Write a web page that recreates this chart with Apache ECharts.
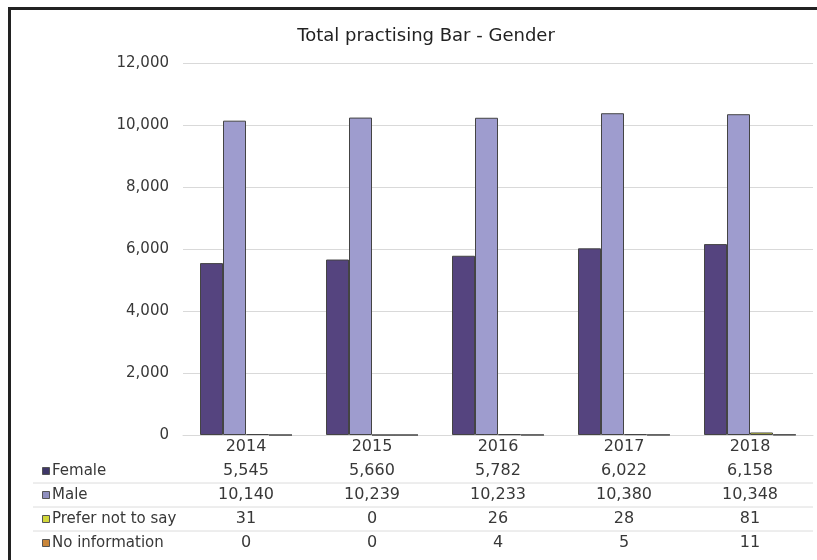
<!DOCTYPE html>
<html>
<head>
<meta charset="utf-8">
<title>Total practising Bar - Gender</title>
<script src="https://cdn.jsdelivr.net/npm/echarts@6/dist/echarts.min.js"></script>
<style>
  html, body { margin: 0; padding: 0; background: #ffffff; }
  #chart { width: 817px; height: 560px; }
</style>
</head>
<body>
<div id="chart"></div>
<script>
// Practising barristers by gender, 2014-2018
var years = ['2014', '2015', '2016', '2017', '2018'];
var female = [5545, 5660, 5782, 6022, 6158];
var male = [10140, 10239, 10233, 10380, 10348];
var preferNotToSay = [31, 0, 26, 28, 81];
var noInformation = [0, 0, 4, 5, 11];
var yTicks = { min: 0, max: 12000, step: 2000 };

var seriesNames = ['Female', 'Male', 'Prefer not to say', 'No information'];
var seriesData = [female, male, preferNotToSay, noInformation];
var seriesColors = ['#55447f', '#9e9cce', '#dfe03c', '#d58c34'];
var keyColors = ['#3f3768', '#8f8fbf', '#d2d73a', '#c9863a'];

var FONT = '"DejaVu Sans", "Liberation Sans", sans-serif';
var TEXT = '#383838';
var GRID = { left: 183, right: 813, top: 63, bottom: 435 };
var ROW_H = 24;

function fmt(v) { return v.toLocaleString('en-US'); }

// one hidden-line category axis per table row, stacked below the plot
var xAxes = [{
  type: 'category',
  data: years,
  gridIndex: 0,
  position: 'bottom',
  axisLine: { show: true, lineStyle: { color: '#d9d9d9', width: 1 } },
  axisTick: { show: false },
  axisLabel: { fontFamily: FONT, fontSize: 16, color: TEXT, margin: 4 }
}];
seriesData.forEach(function (arr, i) {
  xAxes.push({
    type: 'category',
    data: arr.map(fmt),
    gridIndex: 0,
    position: 'bottom',
    offset: ROW_H * (i + 1),
    axisLine: { show: false },
    axisTick: { show: false },
    splitLine: { show: false },
    axisLabel: { fontFamily: FONT, fontSize: 16, color: TEXT, margin: 4, interval: 0 }
  });
});

var graphics = [];
// row keys and names of the data table
seriesNames.forEach(function (name, i) {
  var cy = GRID.bottom + 12 + ROW_H * (i + 1);
  graphics.push({
    type: 'rect',
    shape: { x: 42.5, y: cy - 3.5, width: 7, height: 7 },
    style: { fill: keyColors[i], stroke: '#555555', lineWidth: 1 }
  });
  graphics.push({
    type: 'text',
    x: 52, y: cy,
    style: { text: name, fontFamily: FONT, fontSize: 15, fill: TEXT, textVerticalAlign: 'middle', verticalAlign: 'middle' }
  });
});
// separators between table rows
[1, 2, 3].forEach(function (k) {
  var ly = GRID.bottom + 12 + ROW_H * k + ROW_H / 2;
  graphics.push({
    type: 'line',
    shape: { x1: 33, y1: ly, x2: GRID.right, y2: ly },
    style: { stroke: '#dcdcdc', lineWidth: 1 }
  });
});
// outer frame
graphics.push({
  type: 'rect',
  shape: { x: 9.5, y: 8.5, width: 830, height: 580 },
  style: { fill: 'none', stroke: '#222222', lineWidth: 3 }
});

var option = {
  backgroundColor: '#ffffff',
  animation: false,
  title: {
    text: 'Total practising Bar - Gender',
    left: 421,
    top: 22,
    textAlign: 'center',
    textStyle: { fontFamily: FONT, fontSize: 18, fontWeight: 'normal', color: '#222222' }
  },
  grid: {
    left: GRID.left,
    right: 817 - GRID.right,
    top: GRID.top,
    bottom: 560 - GRID.bottom,
    containLabel: false
  },
  xAxis: xAxes,
  yAxis: {
    type: 'value',
    min: yTicks.min,
    max: yTicks.max,
    interval: yTicks.step,
    axisLine: { show: false },
    axisTick: { show: false },
    splitLine: { lineStyle: { color: '#d9d9d9', width: 1 } },
    axisLabel: { fontFamily: FONT, fontSize: 15, color: TEXT, margin: 14, formatter: function (v) { return fmt(v); } }
  },
  series: seriesNames.map(function (name, i) {
    return {
      name: name,
      type: 'bar',
      xAxisIndex: 0,
      data: seriesData[i],
      barGap: '0%',
      barCategoryGap: '27%',
      itemStyle: { color: seriesColors[i], borderColor: '#444444', borderWidth: 1 }
    };
  }),
  graphic: graphics
};

var chart = echarts.init(document.getElementById('chart'), null, { renderer: 'canvas' });
chart.setOption(option);
</script>
</body>
</html>
